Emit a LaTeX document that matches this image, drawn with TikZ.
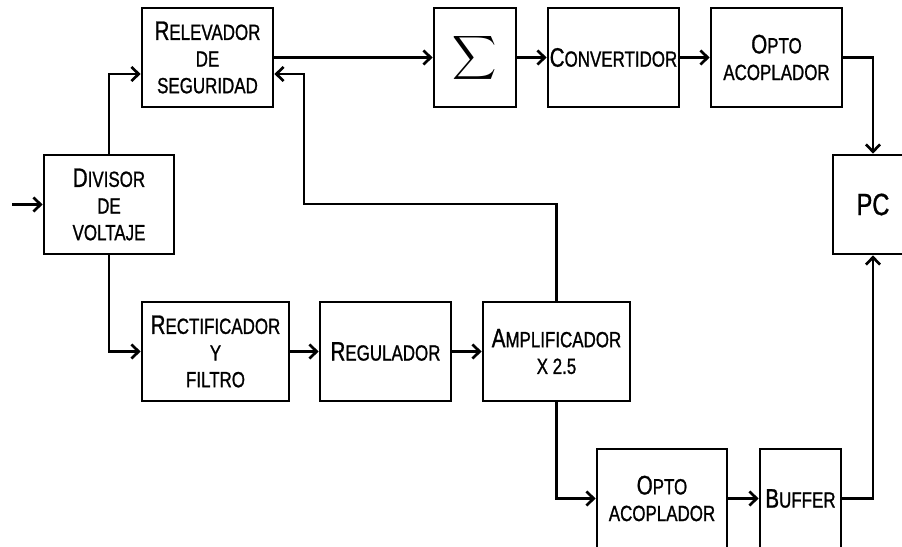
\documentclass[tikz,border=0pt]{standalone}
\usepackage{fontspec}
\setmainfont{Liberation Sans}[FakeStretch=0.77, FakeBold=1]
\usepackage{tikz}
\usetikzlibrary{arrows.meta,calc}
\newcommand{\Ini}[1]{{\fontsize{20}{20}\selectfont #1}}

\begin{document}
\begin{tikzpicture}[x=0.75pt, y=-0.75pt,
    >={Straight Barb[length=5.5pt,width=10.5pt]},
    linea/.style={line width=2pt},
    bloque/.style={draw, line width=2pt, minimum height=74.25pt,
        inner sep=0pt, align=center, font=\fontsize{16.5}{20}\selectfont}]
    \useasboundingbox (0,0) rectangle (902,546);

    % fila superior
    \node[bloque, minimum width=98.25pt] (rel) at (207.5,57.5) {\Ini{R}ELEVADOR\\DE\\SEGURIDAD};
    \node[bloque, minimum width=61.5pt] (suma) at (475,57.5) {\scalebox{2.3}{$\displaystyle\sum$}};
    \node[bloque, minimum width=98.25pt] (conv) at (613.5,57.5) {\Ini{C}ONVERTIDOR};
    \node[bloque, minimum width=98.25pt] (optoA) at (776.5,57.5) {\Ini{O}PTO\\ACOPLADOR};

    % fila media
    \node[bloque, minimum width=97.5pt] (div) at (109,204.5) {\Ini{D}IVISOR\\DE\\VOLTAJE};
    \node[bloque, minimum width=60pt, font=\fontsize{23}{24}\selectfont] (pc) at (873,204.5) {PC};

    % fila inferior
    \node[bloque, minimum width=110.25pt] (rect) at (215.5,351.5) {\Ini{R}ECTIFICADOR\\Y\\FILTRO};
    \node[bloque, minimum width=98.25pt] (reg) at (385.5,351.5) {\Ini{R}EGULADOR};
    \node[bloque, minimum width=110.25pt] (amp) at (556.5,351.5) {\Ini{A}MPLIFICADOR\\X 2.5};
    \node[bloque, minimum width=97.5pt] (optoB) at (662,498.5) {\Ini{O}PTO\\ACOPLADOR};
    \node[bloque, minimum width=60.75pt] (buf) at (800.5,498.5) {\Ini{B}UFFER};

    \coordinate (entrada) at (12,204.5);
    \coordinate (retorno) at (304,204);

    % conexiones
    \draw[linea,->] (entrada) -- (div.west);
    \draw[linea,->] (div.north) |- ($(rel.west)+(0,16.5)$);
    \draw[linea,->] (div.south) |- (rect.west);
    \draw[linea,->] (rel.east) -- (suma.west);
    \draw[linea,->] (suma.east) -- (conv.west);
    \draw[linea,->] (conv.east) -- (optoA.west);
    \draw[linea,->] (optoA.east) -| (pc.north);
    \draw[linea,->] (rect.east) -- (reg.west);
    \draw[linea,->] (reg.east) -- (amp.west);
    \draw[linea,->] (amp.north) |- (retorno) |- ($(rel.east)+(0,16.5)$);
    \draw[linea,->] (amp.south) |- (optoB.west);
    \draw[linea,->] (optoB.east) -- (buf.west);
    \draw[linea,->] (buf.east) -| (pc.south);
\end{tikzpicture}
\end{document}
